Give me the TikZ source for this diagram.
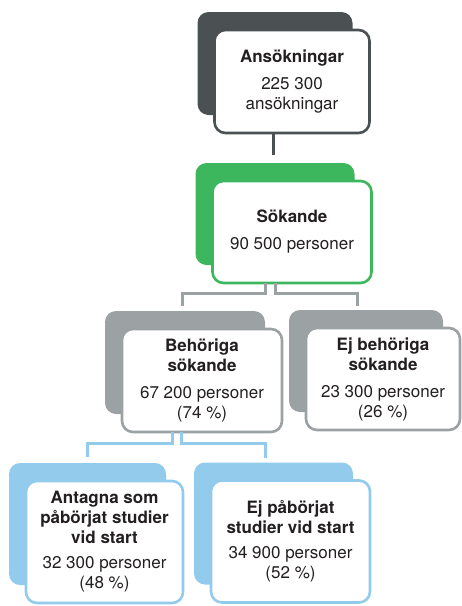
\documentclass[tikz,border=0pt]{standalone}
\usepackage{fontspec}
\setmainfont{TeX Gyre Heros}
\usepackage{tikz}
\usetikzlibrary{shadows}
\definecolor{ansgray}{HTML}{4B5153}
\definecolor{sokgreen}{HTML}{3DB75E}
\definecolor{behgray}{HTML}{9CA1A3}
\definecolor{antblue}{HTML}{92CBEC}
\definecolor{textdark}{HTML}{231F20}
\tikzset{
  card/.style={draw=#1, fill=white, line width=2.6pt, rounded corners=11pt,
    align=center, text=textdark, font=\fontsize{17}{20}\selectfont,
    inner sep=0pt, outer sep=0pt,
    general shadow={fill=#1, shadow xshift=-17pt, shadow yshift=18pt}},
  link/.style={draw=#1, line width=3pt},
}

\begin{document}
\begin{tikzpicture}[x=1pt,y=-1pt]
\useasboundingbox (0,0) rectangle (462,606);
% boxes
\node[card=ansgray, minimum width=155pt, minimum height=103pt] (ans) at (292,81.5)
  {\textbf{Ansökningar}\\[7pt]225 300\\ansökningar};
\node[card=sokgreen, minimum width=159pt, minimum height=102pt] (sok) at (292,232)
  {\textbf{Sökande}\\[7pt]90 500 personer};
\node[card=behgray, minimum width=160pt, minimum height=103pt] (beh) at (202,380.5)
  {\textbf{Behöriga}\\\textbf{sökande}\\[7pt]67 200 personer\\(74 \%)};
\node[card=behgray, minimum width=154pt, minimum height=102pt] (ejbeh) at (383,379)
  {\textbf{Ej behöriga}\\\textbf{sökande}\\[7pt]23 300 personer\\(26 \%)};
\node[card=antblue, minimum width=157pt, minimum height=122pt] (ant) at (104.5,542)
  {\textbf{Antagna som}\\\textbf{påbörjat studier}\\\textbf{vid start}\\[5pt]32 300 personer\\(48 \%)};
\node[card=antblue, minimum width=159pt, minimum height=122pt] (ejpab) at (290.5,541.5)
  {\textbf{Ej påbörjat}\\\textbf{studier vid start}\\[5pt]34 900 personer\\(52 \%)};
% connectors
\draw[link=ansgray] ([xshift=-19pt]ans.south) -- ([xshift=-19pt,yshift=26pt]sok.north);
\draw[link=behgray] ([xshift=-26.5pt]sok.south) -- ++(0,10) -| ([xshift=-20pt,yshift=23pt]beh.north);
\draw[link=behgray] ([xshift=-16.5pt]sok.south) -- ++(0,10) -| ([xshift=-25.5pt,yshift=22pt]ejbeh.north);
\draw[link=antblue] ([xshift=-30pt]beh.south) -- ++(0,11) -| ([xshift=-17.5pt,yshift=24pt]ant.north);
\draw[link=antblue] ([xshift=-21pt]beh.south) -- ++(0,11) -| ([xshift=-25.5pt,yshift=23pt]ejpab.north);
\end{tikzpicture}
\end{document}
